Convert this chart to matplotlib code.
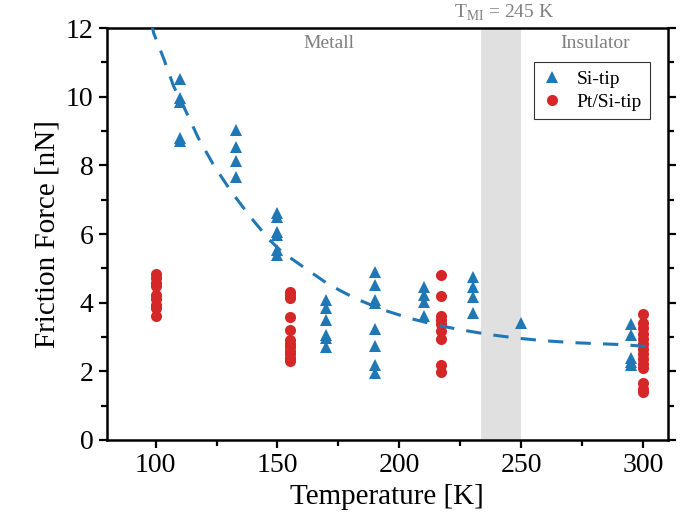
import matplotlib
matplotlib.use("Agg")
import matplotlib.pyplot as plt
from matplotlib.ticker import MultipleLocator

# Si-tip (triangles), Friction force in nN per temperature
si_temp = [110] * 5 + [133] * 4 + [150] * 6 + [170] * 6 + [190] * 8 + [210] * 4 + [230] * 4 + [250] + [295] * 5
si_force = [10.53, 9.95, 9.86, 8.79, 8.72,
            9.03, 8.54, 8.14, 7.67,
            6.62, 6.50, 6.07, 5.97, 5.53, 5.39,
            4.08, 3.84, 3.50, 3.06, 2.96, 2.72,
            4.90, 4.51, 4.08, 3.98, 3.22, 2.74, 2.18, 1.96,
            4.47, 4.22, 4.03, 3.61,
            4.74, 4.47, 4.16, 3.71,
            3.40,
            3.38, 3.06, 2.38, 2.28, 2.18]

# Pt/Si-tip (circles)
pt_temp = [100] * 9 + [155] * 12 + [217] * 9 + [300] * 14
pt_force = [4.84, 4.72, 4.57, 4.49, 4.22, 4.11, 3.93, 3.85, 3.61,
            4.31, 4.22, 4.14, 3.59, 3.20, 2.91, 2.80, 2.70, 2.60, 2.50, 2.40, 2.30,
            4.81, 4.19, 3.61, 3.50, 3.38, 3.18, 2.93, 2.18, 1.99,
            3.67, 3.40, 3.25, 3.10, 2.95, 2.80, 2.65, 2.50, 2.35, 2.20, 2.10, 1.65, 1.50, 1.40]

# dashed guide curve
curve_temp = [98.5, 99.2, 103.3, 107.4, 112.3, 117.6, 123.8, 131.0, 139.2, 146.7, 152.0,
              161.0, 171.0, 182.0, 193.0, 204.0, 215.0, 226.0, 237.0, 248.0, 258.0,
              270.0, 280.0, 291.0, 304.0]
curve_force = [12.1, 11.86, 11.12, 10.31, 9.60, 8.79, 8.01, 7.24, 6.47, 5.83, 5.47,
               5.02, 4.53, 4.12, 3.80, 3.55, 3.35, 3.20, 3.07, 2.97, 2.90,
               2.84, 2.81, 2.78, 2.71]

band = (233.5, 250.0)
t_mi = 245

blue = "#1f77b4"
red = "#d62728"
grey = "#7f7f7f"

plt.rcParams["font.family"] = ["Liberation Serif", "DejaVu Serif"]
plt.rcParams["mathtext.fontset"] = "custom"
plt.rcParams["mathtext.rm"] = "Liberation Serif"

fig = plt.figure(figsize=(6.8, 5.21), dpi=100)
ax = fig.add_axes([0.157, 0.1555, 0.825, 0.7905])

ax.axvspan(*band, color="#e0e0e0", lw=0, zorder=0)
ax.plot(si_temp, si_force, ls="none", marker="^", ms=9, mew=0, color=blue, label="Si-tip", zorder=2)
ax.plot(pt_temp, pt_force, ls="none", marker="o", ms=8, mew=0, color=red, label="Pt/Si-tip", zorder=2)
ax.plot(curve_temp, curve_force, ls=(0, (5, 4)), lw=2.2, color=blue, zorder=3)

ax.set_xlim(80, 310)
ax.set_ylim(0, 12)
ax.xaxis.set_major_locator(MultipleLocator(50))
ax.xaxis.set_minor_locator(MultipleLocator(25))
ax.yaxis.set_major_locator(MultipleLocator(2))
ax.yaxis.set_minor_locator(MultipleLocator(1))
ax.tick_params(which="both", direction="out", width=1.6, right=True, top=False, labelsize=20)
ax.tick_params(which="major", length=6)
ax.tick_params(which="minor", length=4)
for s in ax.spines.values():
    s.set_linewidth(1.8)

ax.set_xlabel("Temperature [K]", fontsize=21, labelpad=4)
ax.set_ylabel("Friction Force [nN]", fontsize=21, labelpad=4)

ax.text(171, 11.55, "Metall", color=grey, fontsize=14, ha="center", va="center")
ax.text(280, 11.55, "Insulator", color=grey, fontsize=14, ha="center", va="center")
ax.text(243, 12.45, r"T$_{\mathrm{MI}}$ = %d K" % t_mi, color=grey, fontsize=14,
        ha="center", va="center", clip_on=False)

leg = ax.legend(loc="upper right", bbox_to_anchor=(0.968, 0.917), borderaxespad=0,
                fontsize=14, frameon=True, fancybox=False, edgecolor="black",
                handlelength=1.0, handletextpad=0.8, borderpad=0.4, labelspacing=0.3)
leg.get_frame().set_linewidth(0.8)

fig.savefig("out.png", dpi=100)
